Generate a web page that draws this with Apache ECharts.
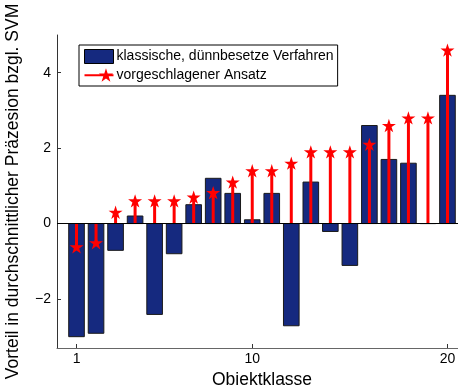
<!DOCTYPE html>
<html>
<head>
<meta charset="utf-8">
<script src="https://cdn.jsdelivr.net/npm/echarts@6/dist/echarts.min.js"></script>
<style>
  html, body { margin: 0; padding: 0; background: #fff; }
  #chart { width: 458px; height: 385px; }
</style>
</head>
<body>
<div id="chart"></div>
<script>
// Object classes 1..20
const classes = [1, 2, 3, 4, 5, 6, 7, 8, 9, 10, 11, 12, 13, 14, 15, 16, 17, 18, 19, 20];
// Advantage of the classic sparse methods over SVM (bars)
const classicGain = [-3.0, -2.91, -0.71, 0.2, -2.41, -0.8, 0.5, 1.2, 0.8, 0.1,
                     0.8, -2.71, 1.1, -0.21, -1.11, 2.6, 1.7, 1.6, 0.0, 3.4];
// Advantage of the proposed approach over SVM (stems with stars)
const proposedGain = [-0.62, -0.51, 0.3, 0.6, 0.6, 0.6, 0.7, 0.82, 1.1, 1.4,
                      1.4, 1.6, 1.9, 1.9, 1.9, 2.1, 2.6, 2.8, 2.8, 4.6];
const xTicks = [1, 10, 20];
const yTicks = [-2, 0, 2, 4];

const barName = 'klassische, dünnbesetze Verfahren';
const stemName = 'vorgeschlagener Ansatz';

const starPath = 'path://M20,0 L21.57,4.84 L26.66,4.84 L22.54,7.83 L24.11,12.66 L20,9.67 L15.89,12.66 L17.46,7.83 L13.34,4.84 L18.43,4.84 Z';
const legendStemIcon = 'path://M0,5.6 L27,5.6 L27,7.6 L0,7.6 Z M20,0 L21.57,4.84 L26.66,4.84 L22.54,7.83 L24.11,12.66 L20,9.67 L15.89,12.66 L17.46,7.83 L13.34,4.84 L18.43,4.84 Z';

const barData = classes.map((c, i) => [c, classicGain[i]]);
const stemData = classes.map((c, i) => [c, proposedGain[i]]);

const font = 'Liberation Sans, Arial, sans-serif';
const chart = echarts.init(document.getElementById('chart'), null, { renderer: 'canvas' });

chart.setOption({
  animation: false,
  backgroundColor: '#fff',
  grid: { left: 57, top: 35, width: 410, height: 313, containLabel: false, outerBoundsMode: 'none' },
  legend: {
    orient: 'vertical',
    left: 79,
    top: 45,
    padding: [4, 4, 4, 5],
    itemGap: 4,
    itemWidth: 29,
    itemHeight: 14,
    borderColor: '#000',
    borderWidth: 1,
    backgroundColor: '#fff',
    textStyle: { fontFamily: font, fontSize: 14, color: '#000', padding: [0, 0, 0, -2] },
    data: [
      { name: barName, icon: 'rect', itemStyle: { color: '#15297f', borderColor: '#000', borderWidth: 1 } },
      { name: stemName, icon: legendStemIcon, itemStyle: { color: '#ff0000', borderWidth: 0 } }
    ]
  },
  xAxis: {
    type: 'value',
    min: 0,
    max: 21,
    name: 'Objektklasse',
    nameLocation: 'middle',
    nameGap: 15,
    nameTextStyle: { fontFamily: font, fontSize: 17.5, color: '#000' },
    splitLine: { show: false },
    axisLine: { show: true, onZero: false, lineStyle: { color: '#666', width: 1 } },
    axisTick: { show: true, inside: true, length: 4, customValues: xTicks, lineStyle: { color: '#333' } },
    axisLabel: { customValues: xTicks, margin: 4, fontFamily: font, fontSize: 14, color: '#000' }
  },
  yAxis: {
    type: 'value',
    min: -3.3,
    max: 5.0,
    name: 'Vorteil in durchschnittlicher Präzesion bzgl. SVM',
    nameLocation: 'middle',
    nameGap: 35,
    nameTextStyle: { fontFamily: font, fontSize: 17.5, color: '#000' },
    splitLine: { show: false },
    axisLine: { show: true, onZero: false, lineStyle: { color: '#333', width: 1 } },
    axisTick: { show: true, inside: true, length: 4, customValues: yTicks, lineStyle: { color: '#333' } },
    axisLabel: {
      customValues: yTicks,
      margin: 6,
      fontFamily: font,
      fontSize: 14,
      color: '#000',
      formatter: v => (v < 0 ? '\u2212' + Math.abs(v) : String(v))
    }
  },
  series: [
    {
      name: barName,
      type: 'custom',
      data: barData,
      encode: { x: 0, y: 1 },
      itemStyle: { color: '#15297f' },
      renderItem: function (params, api) {
        const x = api.value(0);
        const y = api.value(1);
        const p0 = api.coord([x - 0.4, 0]);
        const p1 = api.coord([x + 0.4, y]);
        return {
          type: 'rect',
          shape: {
            x: p0[0],
            y: Math.min(p0[1], p1[1]),
            width: p1[0] - p0[0],
            height: Math.abs(p1[1] - p0[1])
          },
          style: { fill: '#15297f', stroke: '#1a1a1a', lineWidth: 1 }
        };
      },
      markLine: {
        silent: true,
        symbol: 'none',
        label: { show: false },
        lineStyle: { color: '#000', width: 1, type: 'solid' },
        data: [{ yAxis: 0 }]
      },
      z: 2
    },
    {
      name: stemName,
      type: 'custom',
      data: stemData,
      encode: { x: 0, y: 1 },
      itemStyle: { color: '#ff0000' },
      renderItem: function (params, api) {
        const x = api.value(0);
        const y = api.value(1);
        const p0 = api.coord([x, 0]);
        const p1 = api.coord([x, y]);
        return {
          type: 'line',
          shape: { x1: p0[0], y1: p0[1], x2: p1[0], y2: p1[1] },
          style: { stroke: '#ff0000', lineWidth: 3 }
        };
      },
      z: 3
    },
    {
      name: stemName,
      type: 'scatter',
      data: stemData,
      symbol: starPath,
      symbolSize: 14,
      symbolKeepAspect: true,
      itemStyle: { color: '#ff0000', opacity: 1 },
      z: 4
    }
  ]
});
</script>
</body>
</html>
